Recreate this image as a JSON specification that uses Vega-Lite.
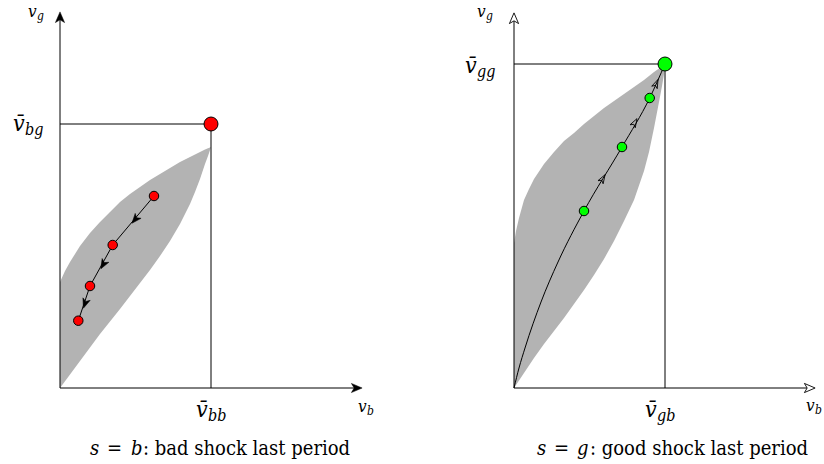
{
  "$schema": "https://vega.github.io/schema/vega-lite/v6.json",
  "padding": 0,
  "spacing": 0,
  "background": "white",
  "config": {"view": {"stroke": null}, "axis": {"disable": true}, "legend": {"disable": true}, "text": {"font": "DejaVu Serif Condensed, DejaVu Serif"}},
  "datasets": {
    "region": [
      {"panel": "b", "x": 0, "yu": 1.06, "yl": 0},
      {"panel": "b", "x": 0.05, "yu": 1.17, "yl": 0.068},
      {"panel": "b", "x": 0.1, "yu": 1.26, "yl": 0.135},
      {"panel": "b", "x": 0.2, "yu": 1.42, "yl": 0.27},
      {"panel": "b", "x": 0.3, "yu": 1.55, "yl": 0.405},
      {"panel": "b", "x": 0.4, "yu": 1.66, "yl": 0.54},
      {"panel": "b", "x": 0.5, "yu": 1.76, "yl": 0.665},
      {"panel": "b", "x": 0.6, "yu": 1.86, "yl": 0.79},
      {"panel": "b", "x": 0.7, "yu": 1.94, "yl": 0.92},
      {"panel": "b", "x": 0.8, "yu": 2.01, "yl": 1.05},
      {"panel": "b", "x": 0.9, "yu": 2.08, "yl": 1.18},
      {"panel": "b", "x": 1.0, "yu": 2.14, "yl": 1.32},
      {"panel": "b", "x": 1.1, "yu": 2.2, "yl": 1.47},
      {"panel": "b", "x": 1.2, "yu": 2.26, "yl": 1.64},
      {"panel": "b", "x": 1.3, "yu": 2.31, "yl": 1.84},
      {"panel": "b", "x": 1.35, "yu": 2.335, "yl": 1.96},
      {"panel": "b", "x": 1.4, "yu": 2.36, "yl": 2.09},
      {"panel": "b", "x": 1.45, "yu": 2.385, "yl": 2.24},
      {"panel": "b", "x": 1.48, "yu": 2.397, "yl": 2.32},
      {"panel": "b", "x": 1.5, "yu": 2.405, "yl": 2.38},
      {"panel": "b", "x": 1.51, "yu": 2.41, "yl": 2.41},
      {"panel": "g", "x": 0, "yu": 1.45, "yl": 0},
      {"panel": "g", "x": 0.02, "yu": 1.57, "yl": 0.03},
      {"panel": "g", "x": 0.05, "yu": 1.7, "yl": 0.075},
      {"panel": "g", "x": 0.1, "yu": 1.88, "yl": 0.15},
      {"panel": "g", "x": 0.15, "yu": 1.99, "yl": 0.225},
      {"panel": "g", "x": 0.2, "yu": 2.09, "yl": 0.3},
      {"panel": "g", "x": 0.3, "yu": 2.24, "yl": 0.44},
      {"panel": "g", "x": 0.4, "yu": 2.36, "yl": 0.57},
      {"panel": "g", "x": 0.5, "yu": 2.47, "yl": 0.7},
      {"panel": "g", "x": 0.6, "yu": 2.55, "yl": 0.84},
      {"panel": "g", "x": 0.7, "yu": 2.64, "yl": 0.98},
      {"panel": "g", "x": 0.8, "yu": 2.72, "yl": 1.13},
      {"panel": "g", "x": 0.9, "yu": 2.8, "yl": 1.29},
      {"panel": "g", "x": 1.0, "yu": 2.87, "yl": 1.47},
      {"panel": "g", "x": 1.1, "yu": 2.94, "yl": 1.67},
      {"panel": "g", "x": 1.2, "yu": 3.01, "yl": 1.88},
      {"panel": "g", "x": 1.3, "yu": 3.08, "yl": 2.17},
      {"panel": "g", "x": 1.35, "yu": 3.12, "yl": 2.36},
      {"panel": "g", "x": 1.4, "yu": 3.16, "yl": 2.6},
      {"panel": "g", "x": 1.45, "yu": 3.195, "yl": 2.86},
      {"panel": "g", "x": 1.48, "yu": 3.215, "yl": 3.02},
      {"panel": "g", "x": 1.5, "yu": 3.23, "yl": 3.14},
      {"panel": "g", "x": 1.51, "yu": 3.24, "yl": 3.24}
    ],
    "seg": [
      {"panel": "b", "x": 0, "y": 0, "x2": 0, "y2": 3.7},
      {"panel": "b", "x": 0, "y": 0, "x2": 2.96, "y2": 0},
      {"panel": "b", "x": 1.51, "y": 0, "x2": 1.51, "y2": 2.64},
      {"panel": "b", "x": 0, "y": 2.64, "x2": 1.51, "y2": 2.64},
      {"panel": "g", "x": 0, "y": 0, "x2": 0, "y2": 3.69},
      {"panel": "g", "x": 0, "y": 0, "x2": 2.95, "y2": 0},
      {"panel": "g", "x": 1.51, "y": 0, "x2": 1.51, "y2": 3.24},
      {"panel": "g", "x": 0, "y": 3.24, "x2": 1.51, "y2": 3.24}
    ],
    "axisarrow": [
      {"panel": "b", "x": 0, "y": 3.7, "dir": 0},
      {"panel": "b", "x": 2.96, "y": 0, "dir": 90},
      {"panel": "g", "x": 0, "y": 3.69, "dir": 0},
      {"panel": "g", "x": 2.95, "y": 0, "dir": 90}
    ],
    "path": [
      {"panel": "b", "step": 1, "x": 0.94, "y": 1.92},
      {"panel": "b", "step": 2, "x": 0.527, "y": 1.43},
      {"panel": "b", "step": 3, "x": 0.3, "y": 1.02},
      {"panel": "b", "step": 4, "x": 0.183, "y": 0.673},
      {"panel": "g", "step": 1, "x": 0, "y": 0},
      {"panel": "g", "step": 2, "x": 0.05, "y": 0.2},
      {"panel": "g", "step": 3, "x": 0.11, "y": 0.4},
      {"panel": "g", "step": 4, "x": 0.27, "y": 0.86},
      {"panel": "g", "step": 5, "x": 0.44, "y": 1.26},
      {"panel": "g", "step": 6, "x": 0.7, "y": 1.77},
      {"panel": "g", "step": 7, "x": 1.08, "y": 2.41},
      {"panel": "g", "step": 8, "x": 1.357, "y": 2.9},
      {"panel": "g", "step": 9, "x": 1.51, "y": 3.24}
    ],
    "patharrow": [
      {"panel": "b", "x": 0.755, "y": 1.69, "dir": 220},
      {"panel": "b", "x": 0.435, "y": 1.24, "dir": 209},
      {"panel": "b", "x": 0.252, "y": 0.85, "dir": 199},
      {"panel": "g", "x": 0.885, "y": 2.09, "dir": 31},
      {"panel": "g", "x": 1.205, "y": 2.65, "dir": 29.5},
      {"panel": "g", "x": 1.42, "y": 3.04, "dir": 24}
    ],
    "dots": [
      {"panel": "b", "kind": "iter", "x": 0.94, "y": 1.92},
      {"panel": "b", "kind": "iter", "x": 0.527, "y": 1.43},
      {"panel": "b", "kind": "iter", "x": 0.3, "y": 1.02},
      {"panel": "b", "kind": "iter", "x": 0.183, "y": 0.673},
      {"panel": "b", "kind": "limit", "x": 1.51, "y": 2.64},
      {"panel": "g", "kind": "iter", "x": 0.7, "y": 1.77},
      {"panel": "g", "kind": "iter", "x": 1.08, "y": 2.41},
      {"panel": "g", "kind": "iter", "x": 1.357, "y": 2.9},
      {"panel": "g", "kind": "limit", "x": 1.51, "y": 3.24}
    ],
    "labels": [
      {"panel": "b", "kind": "axis", "x": -0.32, "y": 3.71, "main": "v", "sub": "g"},
      {"panel": "b", "kind": "axis", "x": 2.98, "y": -0.24, "main": "v", "sub": "b"},
      {"panel": "b", "kind": "bar", "x": -0.47, "y": 2.57, "main": "v\u0304", "sub": "bg"},
      {"panel": "b", "kind": "bar", "x": 1.36, "y": -0.29, "main": "v\u0304", "sub": "bb"},
      {"panel": "g", "kind": "axis", "x": -0.37, "y": 3.71, "main": "v", "sub": "g"},
      {"panel": "g", "kind": "axis", "x": 2.92, "y": -0.23, "main": "v", "sub": "b"},
      {"panel": "g", "kind": "bar", "x": -0.49, "y": 3.15, "main": "v\u0304", "sub": "gg"},
      {"panel": "g", "kind": "bar", "x": 1.31, "y": -0.29, "main": "v\u0304", "sub": "gb"}
    ],
    "caption": [
      {"panel": "b", "x": 0.3, "y": -0.67, "text": "s", "it": true},
      {"panel": "b", "x": 0.47, "y": -0.67, "text": "=", "it": false},
      {"panel": "b", "x": 0.71, "y": -0.67, "text": "b", "it": true},
      {"panel": "b", "x": 0.83, "y": -0.67, "text": ": bad shock last period", "it": false},
      {"panel": "g", "x": 0.23, "y": -0.67, "text": "s", "it": true},
      {"panel": "g", "x": 0.4, "y": -0.67, "text": "=", "it": false},
      {"panel": "g", "x": 0.63, "y": -0.67, "text": "g", "it": true},
      {"panel": "g", "x": 0.76, "y": -0.67, "text": ": good shock last period", "it": false}
    ]
  },
  "hconcat": [
    {
      "width": 412,
      "height": 464,
      "layer": [
        {"data": {"name": "region"}, "transform": [{"filter": "datum.panel == 'b'"}],
         "mark": {"type": "area", "color": "#b3b3b3", "opacity": 1, "interpolate": "linear"},
         "encoding": {"x": {"field": "x", "type": "quantitative", "scale": {"domain": [-0.6, 3.52], "nice": false, "zero": false}},
                      "y": {"field": "yu", "type": "quantitative", "scale": {"domain": [-0.76, 3.88], "nice": false, "zero": false}},
                      "y2": {"field": "yl"}}},
        {"data": {"name": "seg"}, "transform": [{"filter": "datum.panel == 'b'"}],
         "mark": {"type": "rule", "color": "#000", "strokeWidth": 1},
         "encoding": {"x": {"field": "x", "type": "quantitative", "scale": {"domain": [-0.6, 3.52], "nice": false, "zero": false}},
                      "y": {"field": "y", "type": "quantitative", "scale": {"domain": [-0.76, 3.88], "nice": false, "zero": false}},
                      "x2": {"field": "x2"}, "y2": {"field": "y2"}}},
        {"data": {"name": "path"}, "transform": [{"filter": "datum.panel == 'b'"}],
         "mark": {"type": "line", "color": "#000", "strokeWidth": 1},
         "encoding": {"x": {"field": "x", "type": "quantitative", "scale": {"domain": [-0.6, 3.52], "nice": false, "zero": false}},
                      "y": {"field": "y", "type": "quantitative", "scale": {"domain": [-0.76, 3.88], "nice": false, "zero": false}},
                      "order": {"field": "step", "type": "quantitative"}}},
        {"data": {"name": "patharrow"}, "transform": [{"filter": "datum.panel == 'b'"}],
         "mark": {"type": "point", "shape": "M0,-1 L0.7,0.75 L0,0.3 L-0.7,0.75 Z", "filled": true, "fill": "#000", "stroke": "#000", "strokeWidth": 0.5, "opacity": 1, "size": 120},
         "encoding": {"x": {"field": "x", "type": "quantitative", "scale": {"domain": [-0.6, 3.52], "nice": false, "zero": false}},
                      "y": {"field": "y", "type": "quantitative", "scale": {"domain": [-0.76, 3.88], "nice": false, "zero": false}},
                      "angle": {"field": "dir", "type": "quantitative", "scale": null}}},
        {"data": {"name": "axisarrow"}, "transform": [{"filter": "datum.panel == 'b'"}],
         "mark": {"type": "point", "shape": "M0,-1 L0.75,0.75 L0,0.3 L-0.75,0.75 Z", "filled": true, "fill": "#000", "stroke": "#000", "strokeWidth": 0.5, "opacity": 1, "size": 150},
         "encoding": {"x": {"field": "x", "type": "quantitative", "scale": {"domain": [-0.6, 3.52], "nice": false, "zero": false}},
                      "y": {"field": "y", "type": "quantitative", "scale": {"domain": [-0.76, 3.88], "nice": false, "zero": false}},
                      "angle": {"field": "dir", "type": "quantitative", "scale": null}}},
        {"data": {"name": "dots"}, "transform": [{"filter": "datum.panel == 'b'"}],
         "mark": {"type": "point", "shape": "circle", "filled": true, "fill": "#ff0000", "stroke": "#000", "strokeWidth": 1, "opacity": 1},
         "encoding": {"x": {"field": "x", "type": "quantitative", "scale": {"domain": [-0.6, 3.52], "nice": false, "zero": false}},
                      "y": {"field": "y", "type": "quantitative", "scale": {"domain": [-0.76, 3.88], "nice": false, "zero": false}},
                      "size": {"field": "kind", "type": "nominal", "scale": {"domain": ["iter", "limit"], "range": [90, 195]}, "legend": null}}},
        {"data": {"name": "labels"}, "transform": [{"filter": "datum.panel == 'b' && datum.kind == 'bar'"}],
         "mark": {"type": "text", "fontStyle": "italic", "fontSize": 23, "align": "left", "baseline": "alphabetic", "color": "#000"},
         "encoding": {"x": {"field": "x", "type": "quantitative", "scale": {"domain": [-0.6, 3.52], "nice": false, "zero": false}},
                      "y": {"field": "y", "type": "quantitative", "scale": {"domain": [-0.76, 3.88], "nice": false, "zero": false}},
                      "text": {"field": "main"}}},
        {"data": {"name": "labels"}, "transform": [{"filter": "datum.panel == 'b' && datum.kind == 'bar'"}],
         "mark": {"type": "text", "fontStyle": "italic", "fontSize": 16, "align": "left", "baseline": "alphabetic", "color": "#000", "dx": 12, "dy": 4},
         "encoding": {"x": {"field": "x", "type": "quantitative", "scale": {"domain": [-0.6, 3.52], "nice": false, "zero": false}},
                      "y": {"field": "y", "type": "quantitative", "scale": {"domain": [-0.76, 3.88], "nice": false, "zero": false}},
                      "text": {"field": "sub"}}},
        {"data": {"name": "labels"}, "transform": [{"filter": "datum.panel == 'b' && datum.kind == 'axis'"}],
         "mark": {"type": "text", "fontStyle": "italic", "fontSize": 17, "align": "left", "baseline": "alphabetic", "color": "#000"},
         "encoding": {"x": {"field": "x", "type": "quantitative", "scale": {"domain": [-0.6, 3.52], "nice": false, "zero": false}},
                      "y": {"field": "y", "type": "quantitative", "scale": {"domain": [-0.76, 3.88], "nice": false, "zero": false}},
                      "text": {"field": "main"}}},
        {"data": {"name": "labels"}, "transform": [{"filter": "datum.panel == 'b' && datum.kind == 'axis'"}],
         "mark": {"type": "text", "fontStyle": "italic", "fontSize": 12, "align": "left", "baseline": "alphabetic", "color": "#000", "dx": 9, "dy": 3},
         "encoding": {"x": {"field": "x", "type": "quantitative", "scale": {"domain": [-0.6, 3.52], "nice": false, "zero": false}},
                      "y": {"field": "y", "type": "quantitative", "scale": {"domain": [-0.76, 3.88], "nice": false, "zero": false}},
                      "text": {"field": "sub"}}},
        {"data": {"name": "caption"}, "transform": [{"filter": "datum.panel == 'b' && datum.it"}],
         "mark": {"type": "text", "fontStyle": "italic", "fontSize": 20, "align": "left", "baseline": "alphabetic", "color": "#000"},
         "encoding": {"x": {"field": "x", "type": "quantitative", "scale": {"domain": [-0.6, 3.52], "nice": false, "zero": false}},
                      "y": {"field": "y", "type": "quantitative", "scale": {"domain": [-0.76, 3.88], "nice": false, "zero": false}},
                      "text": {"field": "text"}}},
        {"data": {"name": "caption"}, "transform": [{"filter": "datum.panel == 'b' && !datum.it"}],
         "mark": {"type": "text", "fontSize": 20, "align": "left", "baseline": "alphabetic", "color": "#000"},
         "encoding": {"x": {"field": "x", "type": "quantitative", "scale": {"domain": [-0.6, 3.52], "nice": false, "zero": false}},
                      "y": {"field": "y", "type": "quantitative", "scale": {"domain": [-0.76, 3.88], "nice": false, "zero": false}},
                      "text": {"field": "text"}}}
      ]
    },
    {
      "width": 412,
      "height": 464,
      "layer": [
        {"data": {"name": "region"}, "transform": [{"filter": "datum.panel == 'g'"}],
         "mark": {"type": "area", "color": "#b3b3b3", "opacity": 1, "interpolate": "linear"},
         "encoding": {"x": {"field": "x", "type": "quantitative", "scale": {"domain": [-1.02, 3.1], "nice": false, "zero": false}},
                      "y": {"field": "yu", "type": "quantitative", "scale": {"domain": [-0.76, 3.88], "nice": false, "zero": false}},
                      "y2": {"field": "yl"}}},
        {"data": {"name": "seg"}, "transform": [{"filter": "datum.panel == 'g'"}],
         "mark": {"type": "rule", "color": "#000", "strokeWidth": 1},
         "encoding": {"x": {"field": "x", "type": "quantitative", "scale": {"domain": [-1.02, 3.1], "nice": false, "zero": false}},
                      "y": {"field": "y", "type": "quantitative", "scale": {"domain": [-0.76, 3.88], "nice": false, "zero": false}},
                      "x2": {"field": "x2"}, "y2": {"field": "y2"}}},
        {"data": {"name": "path"}, "transform": [{"filter": "datum.panel == 'g'"}],
         "mark": {"type": "line", "color": "#000", "strokeWidth": 1, "interpolate": "monotone"},
         "encoding": {"x": {"field": "x", "type": "quantitative", "scale": {"domain": [-1.02, 3.1], "nice": false, "zero": false}},
                      "y": {"field": "y", "type": "quantitative", "scale": {"domain": [-0.76, 3.88], "nice": false, "zero": false}},
                      "order": {"field": "step", "type": "quantitative"}}},
        {"data": {"name": "patharrow"}, "transform": [{"filter": "datum.panel == 'g'"}],
         "mark": {"type": "point", "shape": "M0,-1 L0.6,0.75 L0,0.3 L-0.6,0.75 Z", "filled": false, "fill": "none", "stroke": "#000", "strokeWidth": 0.8, "opacity": 1, "size": 100},
         "encoding": {"x": {"field": "x", "type": "quantitative", "scale": {"domain": [-1.02, 3.1], "nice": false, "zero": false}},
                      "y": {"field": "y", "type": "quantitative", "scale": {"domain": [-0.76, 3.88], "nice": false, "zero": false}},
                      "angle": {"field": "dir", "type": "quantitative", "scale": null}}},
        {"data": {"name": "axisarrow"}, "transform": [{"filter": "datum.panel == 'g'"}],
         "mark": {"type": "point", "shape": "M0,-1 L0.75,0.75 L0,0.3 L-0.75,0.75 Z", "filled": false, "fill": "#fff", "stroke": "#000", "strokeWidth": 0.9, "opacity": 1, "size": 150},
         "encoding": {"x": {"field": "x", "type": "quantitative", "scale": {"domain": [-1.02, 3.1], "nice": false, "zero": false}},
                      "y": {"field": "y", "type": "quantitative", "scale": {"domain": [-0.76, 3.88], "nice": false, "zero": false}},
                      "angle": {"field": "dir", "type": "quantitative", "scale": null}}},
        {"data": {"name": "dots"}, "transform": [{"filter": "datum.panel == 'g'"}],
         "mark": {"type": "point", "shape": "circle", "filled": true, "fill": "#00ff00", "stroke": "#000", "strokeWidth": 1, "opacity": 1},
         "encoding": {"x": {"field": "x", "type": "quantitative", "scale": {"domain": [-1.02, 3.1], "nice": false, "zero": false}},
                      "y": {"field": "y", "type": "quantitative", "scale": {"domain": [-0.76, 3.88], "nice": false, "zero": false}},
                      "size": {"field": "kind", "type": "nominal", "scale": {"domain": ["iter", "limit"], "range": [90, 195]}, "legend": null}}},
        {"data": {"name": "labels"}, "transform": [{"filter": "datum.panel == 'g' && datum.kind == 'bar'"}],
         "mark": {"type": "text", "fontStyle": "italic", "fontSize": 23, "align": "left", "baseline": "alphabetic", "color": "#000"},
         "encoding": {"x": {"field": "x", "type": "quantitative", "scale": {"domain": [-1.02, 3.1], "nice": false, "zero": false}},
                      "y": {"field": "y", "type": "quantitative", "scale": {"domain": [-0.76, 3.88], "nice": false, "zero": false}},
                      "text": {"field": "main"}}},
        {"data": {"name": "labels"}, "transform": [{"filter": "datum.panel == 'g' && datum.kind == 'bar'"}],
         "mark": {"type": "text", "fontStyle": "italic", "fontSize": 16, "align": "left", "baseline": "alphabetic", "color": "#000", "dx": 12, "dy": 4},
         "encoding": {"x": {"field": "x", "type": "quantitative", "scale": {"domain": [-1.02, 3.1], "nice": false, "zero": false}},
                      "y": {"field": "y", "type": "quantitative", "scale": {"domain": [-0.76, 3.88], "nice": false, "zero": false}},
                      "text": {"field": "sub"}}},
        {"data": {"name": "labels"}, "transform": [{"filter": "datum.panel == 'g' && datum.kind == 'axis'"}],
         "mark": {"type": "text", "fontStyle": "italic", "fontSize": 17, "align": "left", "baseline": "alphabetic", "color": "#000"},
         "encoding": {"x": {"field": "x", "type": "quantitative", "scale": {"domain": [-1.02, 3.1], "nice": false, "zero": false}},
                      "y": {"field": "y", "type": "quantitative", "scale": {"domain": [-0.76, 3.88], "nice": false, "zero": false}},
                      "text": {"field": "main"}}},
        {"data": {"name": "labels"}, "transform": [{"filter": "datum.panel == 'g' && datum.kind == 'axis'"}],
         "mark": {"type": "text", "fontStyle": "italic", "fontSize": 12, "align": "left", "baseline": "alphabetic", "color": "#000", "dx": 9, "dy": 3},
         "encoding": {"x": {"field": "x", "type": "quantitative", "scale": {"domain": [-1.02, 3.1], "nice": false, "zero": false}},
                      "y": {"field": "y", "type": "quantitative", "scale": {"domain": [-0.76, 3.88], "nice": false, "zero": false}},
                      "text": {"field": "sub"}}},
        {"data": {"name": "caption"}, "transform": [{"filter": "datum.panel == 'g' && datum.it"}],
         "mark": {"type": "text", "fontStyle": "italic", "fontSize": 20, "align": "left", "baseline": "alphabetic", "color": "#000"},
         "encoding": {"x": {"field": "x", "type": "quantitative", "scale": {"domain": [-1.02, 3.1], "nice": false, "zero": false}},
                      "y": {"field": "y", "type": "quantitative", "scale": {"domain": [-0.76, 3.88], "nice": false, "zero": false}},
                      "text": {"field": "text"}}},
        {"data": {"name": "caption"}, "transform": [{"filter": "datum.panel == 'g' && !datum.it"}],
         "mark": {"type": "text", "fontSize": 20, "align": "left", "baseline": "alphabetic", "color": "#000"},
         "encoding": {"x": {"field": "x", "type": "quantitative", "scale": {"domain": [-1.02, 3.1], "nice": false, "zero": false}},
                      "y": {"field": "y", "type": "quantitative", "scale": {"domain": [-0.76, 3.88], "nice": false, "zero": false}},
                      "text": {"field": "text"}}}
      ]
    }
  ]
}
